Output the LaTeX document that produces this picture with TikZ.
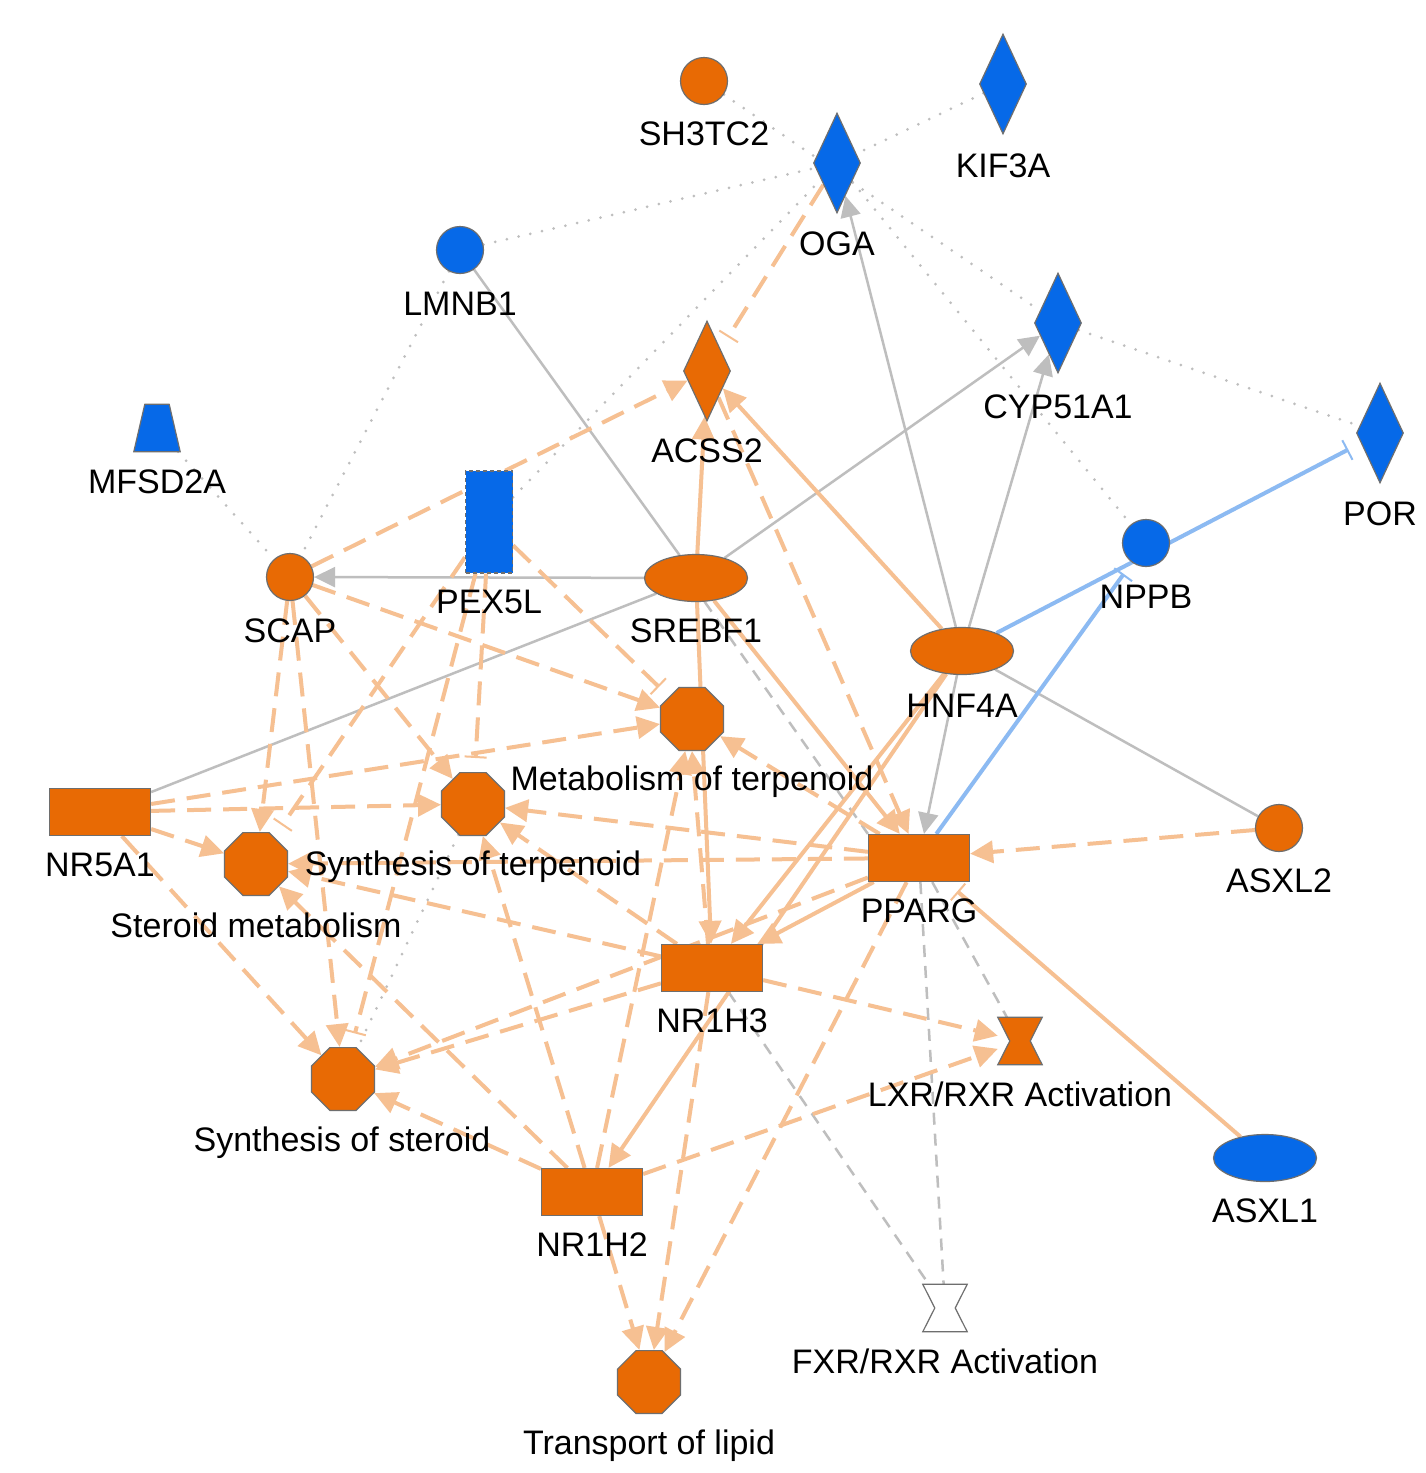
\documentclass[tikz,border=0pt]{standalone}
\usepackage{fontspec}
\setmainfont{Liberation Sans}
\usetikzlibrary{shapes.geometric,arrows.meta,backgrounds}
\definecolor{upc}{HTML}{E86A04}
\definecolor{downc}{HTML}{0669E8}
\definecolor{rim}{HTML}{6E6E6E}
\definecolor{oedge}{HTML}{F6C092}
\definecolor{gedge}{HTML}{BEBEBE}
\definecolor{bedge}{HTML}{8CBAF2}
\tikzset{
  mol/.style={draw=rim, line width=1.2pt, inner sep=0pt},
  circ/.style={mol, circle, minimum size=47pt},
  diam/.style={mol, diamond, minimum width=47pt, minimum height=100pt},
  ell/.style={mol, ellipse, minimum width=103pt, minimum height=47pt},
  gbox/.style={mol, rectangle, minimum width=101pt, minimum height=47pt},
  fn/.style={mol, regular polygon, regular polygon sides=8, minimum size=68pt, fill=upc},
  hg/.style={rectangle, inner sep=0pt, minimum width=44pt, minimum height=47pt},
  txt/.style={anchor=base, inner sep=0pt, font=\fontsize{34}{40}\selectfont},
  act/.style={-{Triangle[length=23pt,width=22pt]}},
  gact/.style={-{Triangle[length=21pt,width=20pt]}},
  inh/.style={-{Bar[width=22pt,line width=2pt]}, shorten >=14pt},
  osol/.style={color=oedge, line width=4pt},
  odash/.style={osol, dash pattern=on 24pt off 12pt},
  gsol/.style={color=gedge, line width=2.5pt},
  gdash/.style={gsol, dash pattern=on 12pt off 9pt},
  gdot/.style={color=gedge, line width=3pt, line cap=round, dash pattern=on 0pt off 12pt},
  bsol/.style={color=bedge, line width=4pt},
}
\begin{document}
\begin{tikzpicture}[x=1pt,y=-1pt]
\useasboundingbox (0,0) rectangle (1426,1473);

\node [circ, fill=upc] (sh3tc2) at (704,81) {};
\node [diam, fill=downc] (kif3a) at (1003,84) {};
\node [diam, fill=downc] (oga) at (837,163) {};
\node [circ, fill=downc] (lmnb1) at (460,250) {};
\node [diam, fill=downc] (cyp51a1) at (1058,323) {};
\node [diam, fill=downc] (por) at (1380,433) {};
\node [diam, fill=upc] (acss2) at (707,371) {};
\node [hg, minimum width=46pt] (mfsd2a) at (157,428) {};
\node [mol, rectangle, dash pattern=on 4pt off 3pt, minimum width=47pt, minimum height=102pt, fill=downc] (pex5l) at (489,522) {};
\node [circ, fill=upc] (scap) at (290,577) {};
\node [ell, fill=upc] (srebf1) at (696,578) {};
\node [circ, fill=downc] (nppb) at (1146,543) {};
\node [ell, fill=upc] (hnf4a) at (962,651) {};
\node [fn] (metterp) at (692,719) {};
\node [fn] (synterp) at (473,804) {};
\node [fn] (stermet) at (256,864) {};
\node [fn] (synster) at (343,1079) {};
\node [fn] (translip) at (649,1382) {};
\node [gbox, fill=upc] (nr5a1) at (100,812) {};
\node [gbox, fill=upc] (pparg) at (919,858) {};
\node [gbox, fill=upc] (nr1h3) at (712,968) {};
\node [gbox, fill=upc] (nr1h2) at (592,1192) {};
\node [circ, fill=upc] (asxl2) at (1279,828) {};
\node [ell, fill=downc] (asxl1) at (1265,1158) {};
\node [hg] (lxr) at (1020,1041) {};
\node [hg] (fxr) at (945,1308) {};
\filldraw [fill=downc, draw=rim, line width=1.2pt] ([xshift=11pt]mfsd2a.north west) -- ([xshift=-11pt]mfsd2a.north east) -- (mfsd2a.south east) -- (mfsd2a.south west) -- cycle;
\filldraw [fill=upc, draw=rim, line width=1.2pt] (lxr.north west) -- (lxr.north east) -- ([xshift=-12pt]lxr.east) -- (lxr.south east) -- (lxr.south west) -- ([xshift=12pt]lxr.west) -- cycle;
\filldraw [fill=white, draw=rim, line width=1.2pt] (fxr.north west) -- (fxr.north east) -- ([xshift=-12pt]fxr.east) -- (fxr.south east) -- (fxr.south west) -- ([xshift=12pt]fxr.west) -- cycle;

\node [txt] (sh3tc2txt) at (704,145) {SH3TC2};
\node [txt] (kif3atxt) at (1003,177) {KIF3A};
\node [txt] (ogatxt) at (837,255) {OGA};
\node [txt] (lmnb1txt) at (460,315) {LMNB1};
\node [txt] (cyp51a1txt) at (1058,418) {CYP51A1};
\node [txt] (portxt) at (1380,525) {POR};
\node [txt] (acss2txt) at (707,462) {ACSS2};
\node [txt] (mfsd2atxt) at (157,493) {MFSD2A};
\node [txt] (pex5ltxt) at (489,613) {PEX5L};
\node [txt] (scaptxt) at (290,642) {SCAP};
\node [txt] (srebf1txt) at (696,642) {SREBF1};
\node [txt] (nppbtxt) at (1146,608) {NPPB};
\node [txt] (hnf4atxt) at (962,717) {HNF4A};
\node [txt] (metterptxt) at (692,790) {Metabolism of terpenoid};
\node [txt] (synterptxt) at (473,875) {Synthesis of terpenoid};
\node [txt] (stermettxt) at (256,937) {Steroid metabolism};
\node [txt] (synstertxt) at (342,1151) {Synthesis of steroid};
\node [txt] (translitxt) at (649,1454) {Transport of lipid};
\node [txt] (nr5a1txt) at (100,876) {NR5A1};
\node [txt] (ppargtxt) at (919,922) {PPARG};
\node [txt] (nr1h3txt) at (712,1032) {NR1H3};
\node [txt] (nr1h2txt) at (592,1256) {NR1H2};
\node [txt] (asxl2txt) at (1279,892) {ASXL2};
\node [txt] (asxl1txt) at (1265,1222) {ASXL1};
\node [txt] (lxrtxt) at (1020,1106) {LXR/RXR Activation};
\node [txt] (fxrtxt) at (945,1373) {FXR/RXR Activation};

\begin{scope}[on background layer]
\fill [white] (0,0) rectangle (1426,1473);
\draw [gdot] (kif3a) -- (oga);
\draw [gdot] (lmnb1) -- (oga);
\draw [gdot] (pex5l) -- (oga);
\draw [gdot] (sh3tc2) -- (cyp51a1);
\draw [gdot] (oga) -- (nppb);
\draw [gdot] (cyp51a1) -- (por);
\draw [gdot] (mfsd2a) -- (scap);
\draw [gdot] (lmnb1) -- (scap);
\draw [gdot] (synterp) -- (synster);
\draw [gsol] (lmnb1) -- (srebf1);
\draw [gsol] (nr5a1) -- (srebf1);
\draw [gsol] (hnf4a) -- (asxl2);
\draw [gsol, gact] (srebf1) -- (scap);
\draw [gsol, gact] (srebf1) -- (cyp51a1);
\draw [gsol, gact] (hnf4a) -- (oga);
\draw [gsol, gact] (hnf4a) -- (cyp51a1);
\draw [gsol, gact] (hnf4a) -- (pparg);
\draw [gdash] (srebf1.-70) -- (pparg.north west);
\draw [gdash] (pparg) -- (lxr);
\draw [gdash] (pparg) -- (fxr);
\draw [gdash] (nr1h3) -- (fxr);
\draw [bsol, inh] (hnf4a) -- (por);
\draw [bsol, inh] (pparg) -- (nppb);
\draw [odash, act] (scap) -- (acss2);
\draw [odash, inh] (oga) -- (acss2);
\draw [osol, act] (srebf1) -- (acss2);
\draw [osol, act] (hnf4a) -- (acss2);
\draw [odash, act] (acss2) -- (pparg);
\draw [odash, act] (scap) -- (metterp);
\draw [odash, act] (scap) -- (synterp);
\draw [odash, act] (scap) -- (stermet);
\draw [odash, act] (scap) -- (synster);
\draw [odash, inh] (pex5l) -- (metterp);
\draw [odash, inh] (pex5l) -- (synterp);
\draw [odash, inh] (pex5l) -- (stermet);
\draw [odash, inh] (pex5l) -- (synster);
\draw [odash, act] (nr5a1) -- (metterp);
\draw [odash, act] (nr5a1) -- (synterp);
\draw [odash, act] (nr5a1) -- (stermet);
\draw [odash, act] (nr5a1) -- (synster);
\draw [odash, act] (pparg) -- (metterp);
\draw [odash, act] (pparg) -- (synterp);
\draw [odash, act] (pparg) -- (stermet);
\draw [odash, act] (pparg) -- (synster);
\draw [odash, act] (pparg) -- (translip);
\draw [odash, act] ([xshift=-4pt]nr1h3.north) -- (metterp.south);
\draw [odash, act] (nr1h3) -- (synterp);
\draw [odash, act] (nr1h3) -- (stermet);
\draw [odash, act] (nr1h3) -- (synster);
\draw [odash, act] (nr1h3) -- (lxr);
\draw [odash, act] (nr1h3) -- (translip);
\draw [odash, act] (nr1h2) -- (metterp);
\draw [odash, act] (nr1h2) -- (synterp);
\draw [odash, act] (nr1h2) -- (stermet);
\draw [odash, act] (nr1h2) -- (synster);
\draw [odash, act] (nr1h2) -- (lxr);
\draw [odash, act] (nr1h2) -- (translip);
\draw [odash, act] (asxl2) -- (pparg);
\draw [osol, act] (srebf1) -- (nr1h3);
\draw [osol, act] (srebf1) -- (pparg);
\draw [osol, act] (hnf4a) -- (nr1h3);
\draw [osol, act] (hnf4a) -- (nr1h2);
\draw [osol, act] (pparg) -- (nr1h3);
\draw [osol, inh] (asxl1) -- (pparg);
\end{scope}
\end{tikzpicture}
\end{document}
